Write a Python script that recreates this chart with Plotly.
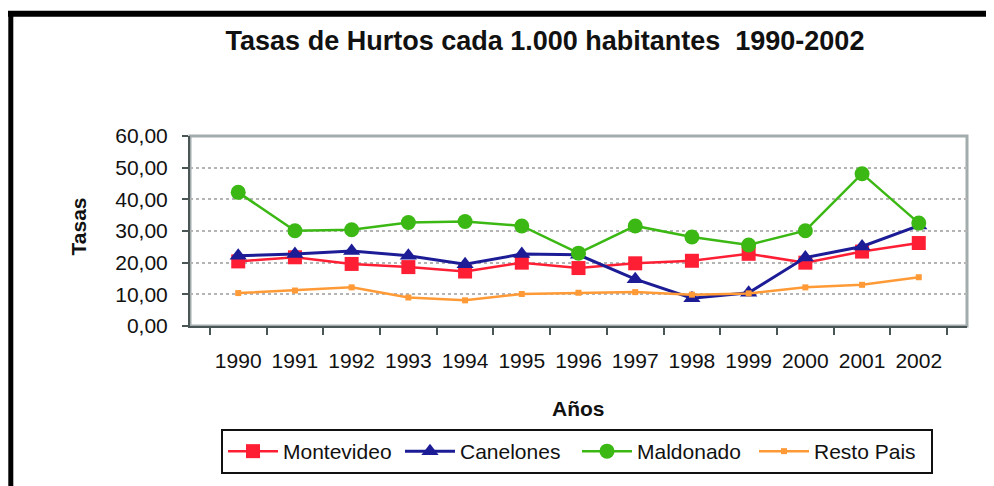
import plotly.graph_objects as go

years = ["1990", "1991", "1992", "1993", "1994", "1995", "1996",
         "1997", "1998", "1999", "2000", "2001", "2002"]
montevideo = [20.4, 21.7, 19.6, 18.6, 17.2, 20.0, 18.3, 19.8, 20.6, 22.8, 20.0, 23.5, 26.2]
canelones = [22.2, 22.7, 23.7, 22.2, 19.5, 22.7, 22.5, 14.8, 8.8, 10.5, 21.6, 25.1, 31.7]
maldonado = [42.2, 30.1, 30.4, 32.7, 33.0, 31.6, 23.0, 31.6, 28.1, 25.6, 30.1, 48.1, 32.5]
resto_pais = [10.4, 11.2, 12.2, 9.0, 8.1, 10.1, 10.5, 10.7, 9.9, 10.3, 12.2, 13.0, 15.4]
y_ticks = [0, 10, 20, 30, 40, 50, 60]

FONT = "Liberation Sans, Arial, sans-serif"

# page body has an 8px margin; work in screen px and convert
OFF = 8
SW, SH = 994, 486
W, H = SW - OFF, SH - OFF
# plot area in screen px
L, R, T, B = 190, 967, 136, 326


def px_x(p):
    return (p - L) / (R - L)


def px_y(p):
    return (B - p) / (B - T)


fig = go.Figure()
series = [
    ("Montevideo", montevideo, "#ff1f35", "square", 14, 2.5),
    ("Canelones", canelones, "#1c1c96", "triangle-up", 15, 3),
    ("Maldonado", maldonado, "#3cb814", "circle", 15, 2.5),
    ("Resto Pais", resto_pais, "#ff9a36", "square", 6, 2.5),
]
for name, vals, color, sym, size, lw in series:
    fig.add_trace(go.Scatter(
        x=years, y=vals, name=name, mode="lines+markers",
        line=dict(color=color, width=lw),
        marker=dict(symbol=sym, size=size, color=color, line=dict(width=0)),
    ))

fig.update_layout(
    width=W, height=H,
    margin=dict(l=L - OFF, r=SW - R, t=T - OFF, b=SH - B, autoexpand=False),
    paper_bgcolor="white", plot_bgcolor="white",
    separators=",.",
    font=dict(family=FONT, color="#111111"),
    title=dict(
        text="Tasas de Hurtos cada 1.000 habitantes \u00a01990-2002",
        x=(545 - OFF) / W, xanchor="center", y=1 - (41 - OFF) / H, yanchor="middle",
        font=dict(size=27, family=FONT, color="#111111", weight="bold"),
    ),
    showlegend=True,
    legend=dict(
        orientation="h", x=px_x(577), xanchor="center", y=px_y(429), yanchor="top",
        bordercolor="#111111", borderwidth=2, bgcolor="white",
        font=dict(size=21, family=FONT, color="#111111"),
        itemsizing="trace", tracegroupgap=0, itemwidth=50,
        entrywidth=112, entrywidthmode="pixels",
    ),
    xaxis=dict(
        type="category", showgrid=False, tickson="boundaries", tickangle=0,
        ticks="outside", ticklen=7, tickcolor="#4a5656", tickwidth=2,
        showline=True, linecolor="#4a5656", linewidth=2, automargin=False,
        tickfont=dict(size=21, family=FONT, color="#111111"),
        ticklabelstandoff=15, zeroline=False,
    ),
    yaxis=dict(
        range=[0, 60], tickvals=y_ticks, tickformat=".2f", automargin=False,
        showgrid=True, gridcolor="#b4b4b4", griddash="dot", gridwidth=1.5,
        ticks="outside", ticklen=6, tickcolor="#4a5656", tickwidth=2,
        showline=True, linecolor="#4a5656", linewidth=2,
        tickfont=dict(size=21, family=FONT, color="#111111"),
        ticklabelstandoff=10, zeroline=False,
    ),
    annotations=[
        dict(text="<b>Tasas</b>", xref="paper", yref="paper", x=px_x(77.5), y=px_y(227),
             xanchor="center", yanchor="middle", textangle=-90, showarrow=False,
             font=dict(size=21, family=FONT, color="#111111")),
        dict(text="<b>Años</b>", xref="paper", yref="paper", x=px_x(578), y=px_y(408),
             xanchor="center", yanchor="middle", showarrow=False,
             font=dict(size=21, family=FONT, color="#111111")),
    ],
    shapes=[
        dict(type="rect", xref="paper", yref="paper", x0=0, x1=1, y0=0, y1=1,
             line=dict(color="#a3acac", width=3), layer="below"),
        dict(type="line", xref="paper", yref="paper", x0=px_x(8), x1=px_x(1010),
             y0=px_y(13.8), y1=px_y(13.8), line=dict(color="black", width=6)),
        dict(type="line", xref="paper", yref="paper", x0=px_x(10.8), x1=px_x(10.8),
             y0=px_y(11), y1=px_y(500), line=dict(color="black", width=5)),
    ],
)

fig.write_html("out.html")
